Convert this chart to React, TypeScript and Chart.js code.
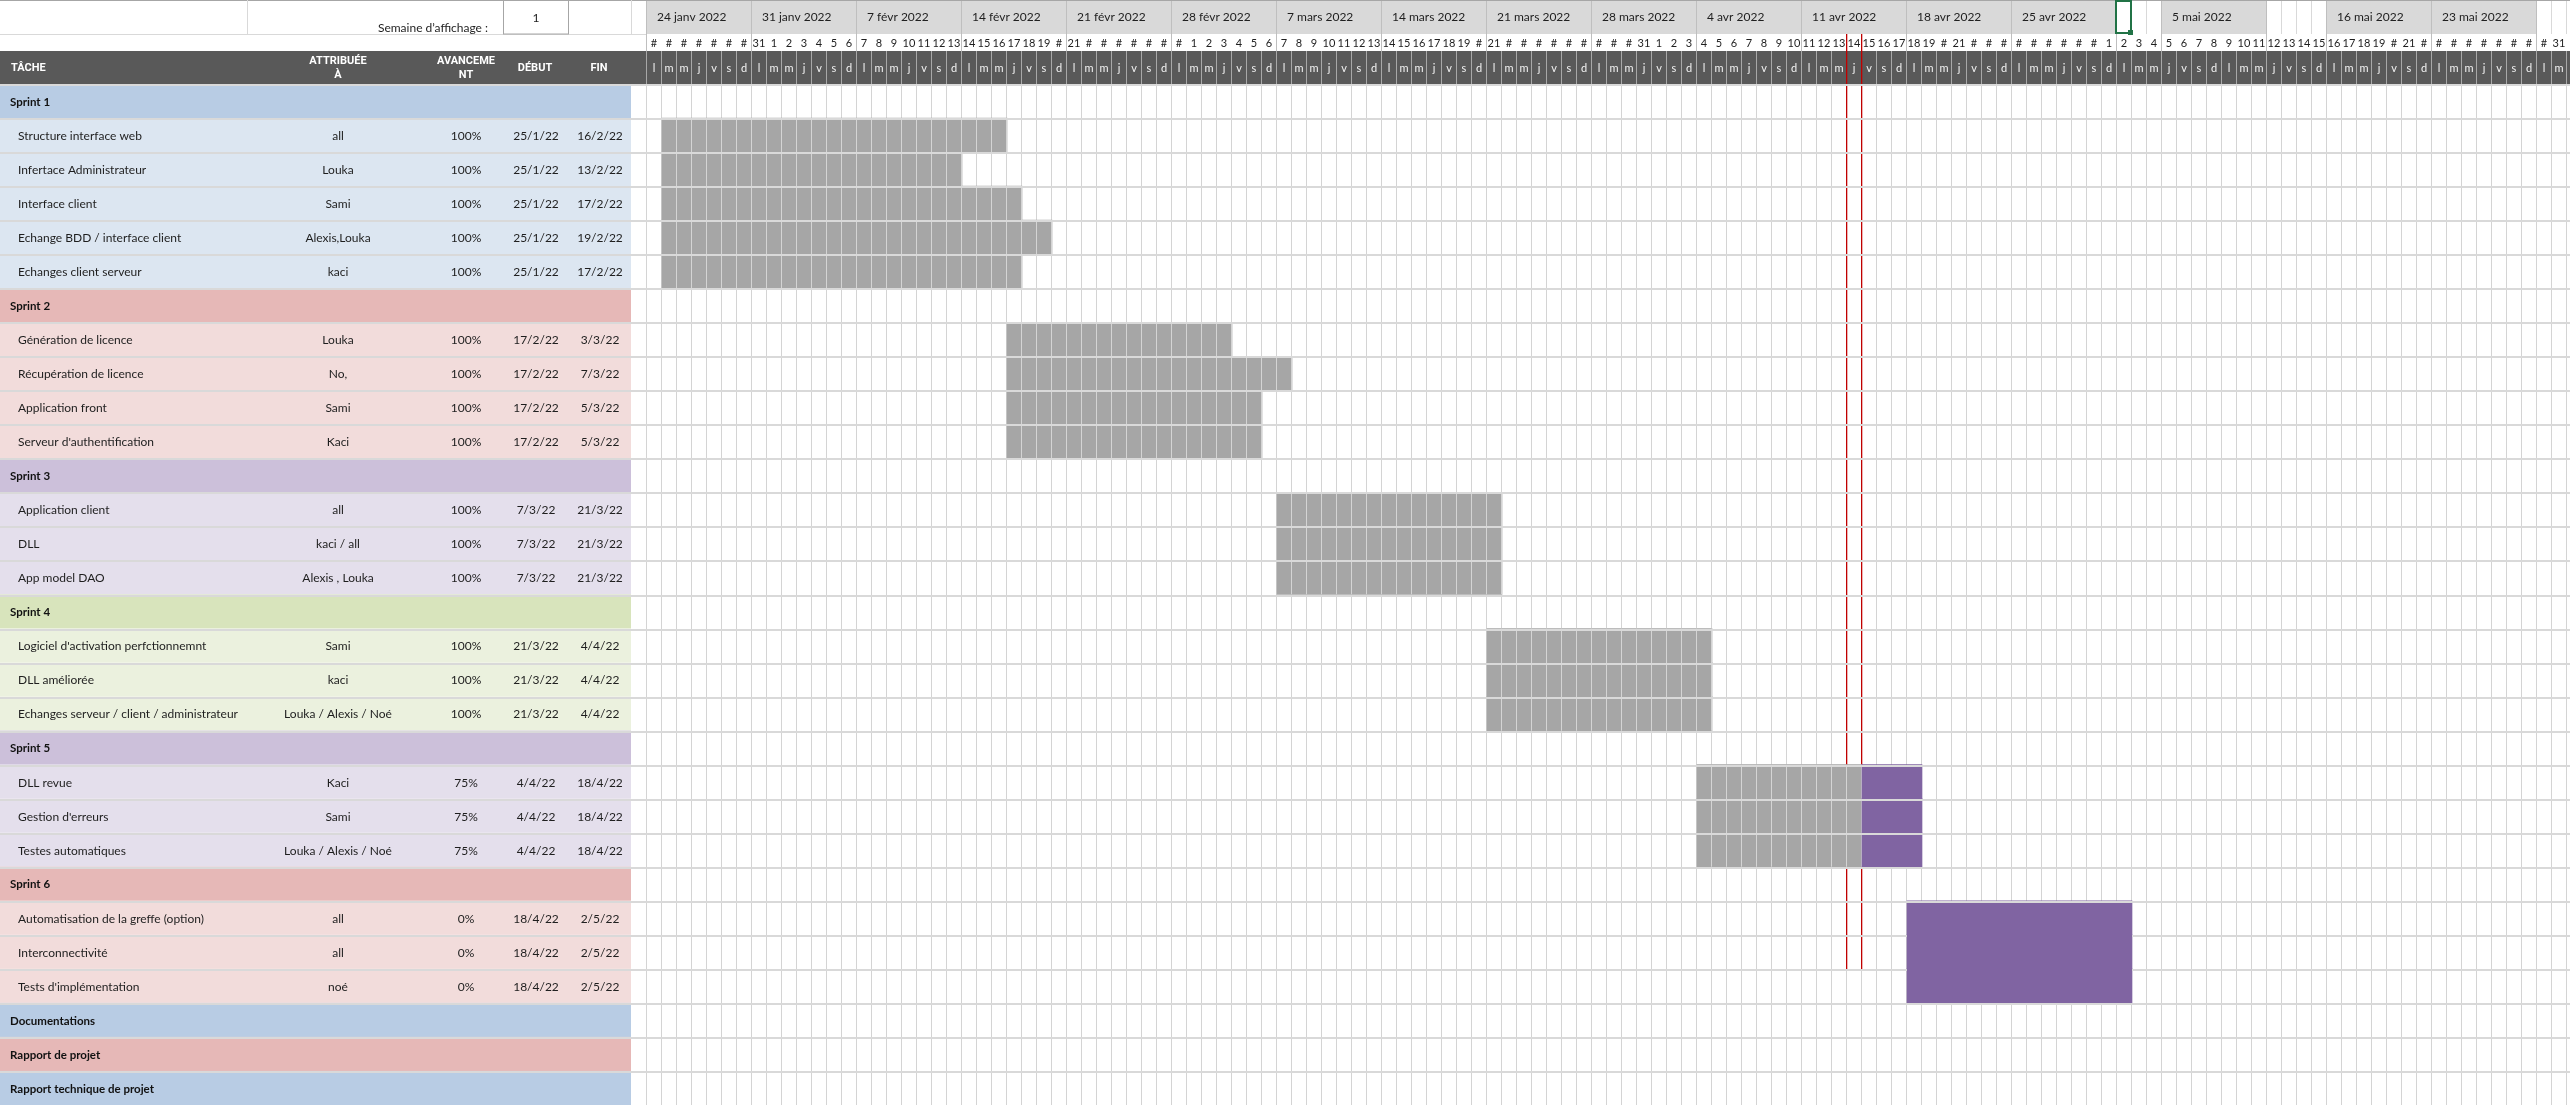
import React, { useEffect, useRef } from "react";
import { Chart, registerables } from "chart.js";

Chart.register(...registerables);

// ---------------- data ----------------
const TIMELINE_START = "24/1/22";
const TIMELINE_DAYS = 128;
const TODAY = "14/4/22";
const TODAY_MARKER_LAST_ROW = "Interconnectivité";
const SELECTED_DAY = "2/5/22";
const DISPLAY_WEEK = "1";

const rowNames = [
  "Sprint 1",
  "Structure interface web",
  "Infertace Administrateur",
  "Interface client",
  "Echange BDD / interface client",
  "Echanges client serveur",
  "Sprint 2",
  "Génération de licence",
  "Récupération de licence",
  "Application front",
  "Serveur d'authentification",
  "Sprint 3",
  "Application client",
  "DLL",
  "App model DAO",
  "Sprint 4",
  "Logiciel d'activation perfctionnemnt",
  "DLL améliorée",
  "Echanges serveur / client / administrateur",
  "Sprint 5",
  "DLL revue",
  "Gestion d'erreurs",
  "Testes automatiques",
  "Sprint 6",
  "Automatisation de la greffe (option)",
  "Interconnectivité",
  "Tests d'implémentation",
  "Documentations",
  "Rapport de projet",
  "Rapport technique de projet",
];

const rowKinds = [
  "group", "task", "task", "task", "task", "task",
  "group", "task", "task", "task", "task",
  "group", "task", "task", "task",
  "group", "task", "task", "task",
  "group", "task", "task", "task",
  "group", "task", "task", "task",
  "group", "group", "group",
];

const rowPalette = [
  "blue", "blue", "blue", "blue", "blue", "blue",
  "red", "red", "red", "red", "red",
  "purple", "purple", "purple", "purple",
  "green", "green", "green", "green",
  "purple", "purple", "purple", "purple",
  "red", "red", "red", "red",
  "blue", "red", "blue",
];

const rowAssignees = [
  "", "all", "Louka", "Sami", "Alexis,Louka", "kaci",
  "", "Louka", "No,", "Sami", "Kaci",
  "", "all", "kaci / all", "Alexis , Louka",
  "", "Sami", "kaci", "Louka / Alexis / Noé",
  "", "Kaci", "Sami", "Louka / Alexis / Noé",
  "", "all", "all", "noé",
  "", "", "",
];

const rowProgress = [
  null, 100, 100, 100, 100, 100,
  null, 100, 100, 100, 100,
  null, 100, 100, 100,
  null, 100, 100, 100,
  null, 75, 75, 75,
  null, 0, 0, 0,
  null, null, null,
];

const rowStarts = [
  "", "25/1/22", "25/1/22", "25/1/22", "25/1/22", "25/1/22",
  "", "17/2/22", "17/2/22", "17/2/22", "17/2/22",
  "", "7/3/22", "7/3/22", "7/3/22",
  "", "21/3/22", "21/3/22", "21/3/22",
  "", "4/4/22", "4/4/22", "4/4/22",
  "", "18/4/22", "18/4/22", "18/4/22",
  "", "", "",
];

const rowEnds = [
  "", "16/2/22", "13/2/22", "17/2/22", "19/2/22", "17/2/22",
  "", "3/3/22", "7/3/22", "5/3/22", "5/3/22",
  "", "21/3/22", "21/3/22", "21/3/22",
  "", "4/4/22", "4/4/22", "4/4/22",
  "", "18/4/22", "18/4/22", "18/4/22",
  "", "2/5/22", "2/5/22", "2/5/22",
  "", "", "",
];

const tableHeaders = [["TÂCHE"], ["ATTRIBUÉE", "À"], ["AVANCEME", "NT"], ["DÉBUT"], ["FIN"]];

const weekLabels = [
  "24 janv 2022", "31 janv 2022", "7 févr 2022", "14 févr 2022", "21 févr 2022",
  "28 févr 2022", "7 mars 2022", "14 mars 2022", "21 mars 2022", "28 mars 2022",
  "4 avr 2022", "11 avr 2022", "18 avr 2022", "25 avr 2022", "5 mai 2022",
  "16 mai 2022", "23 mai 2022",
];
const weekStarts = [
  "24/1/22", "31/1/22", "7/2/22", "14/2/22", "21/2/22",
  "28/2/22", "7/3/22", "14/3/22", "21/3/22", "28/3/22",
  "4/4/22", "11/4/22", "18/4/22", "25/4/22", "5/5/22",
  "16/5/22", "23/5/22",
];

// day numbers as displayed ("#" where the cell was too narrow)
const dayNumberLabels = [
  "#", "#", "#", "#", "#", "#", "#",
  "31", "1", "2", "3", "4", "5", "6",
  "7", "8", "9", "10", "11", "12", "13",
  "14", "15", "16", "17", "18", "19", "#",
  "21", "#", "#", "#", "#", "#", "#",
  "#", "1", "2", "3", "4", "5", "6",
  "7", "8", "9", "10", "11", "12", "13",
  "14", "15", "16", "17", "18", "19", "#",
  "21", "#", "#", "#", "#", "#", "#",
  "#", "#", "#", "31", "1", "2", "3",
  "4", "5", "6", "7", "8", "9", "10",
  "11", "12", "13", "14", "15", "16", "17",
  "18", "19", "#", "21", "#", "#", "#",
  "#", "#", "#", "#", "#", "#", "1",
  "2", "3", "4", "5", "6", "7", "8",
  "9", "10", "11", "12", "13", "14", "15",
  "16", "17", "18", "19", "#", "21", "#",
  "#", "#", "#", "#", "#", "#", "#",
  "#", "31",
];

const dayLetters = ["l", "m", "m", "j", "v", "s", "d"];

// ---------------- style / layout ----------------
const WIDTH = 2570;
const HEIGHT = 1105;
const TABLE_RIGHT = 631;
const GANTT_LEFT = 647;
const DAY_W = 15;
const ROW0_BOTTOM = 34;
const ROW1_BOTTOM = 51;
const HEADER_BOTTOM = 84;

const palettes: Record<string, [string, string]> = {
  blue: ["#b8cce4", "#dce6f1"],
  red: ["#e6b8b7", "#f2dcdb"],
  purple: ["#ccc0da", "#e4dfec"],
  green: ["#d8e4bc", "#ebf1de"],
};
const DONE_COLOR = "#a6a6a6";
const TODO_COLOR = "#8064a2";
const GRID = "#d4d4d4";
const SEP = "#d9d9d9";
const DARK = "#595959";
const TEXT = "#1e1e1e";

const FONT = "Lato, 'Noto Sans', sans-serif";
const HEAD_FONT = "bold 11px Roboto, 'Liberation Sans', sans-serif";

const parseDay = (s: string) => {
  const [d, m, y] = s.split("/").map(Number);
  return Math.round(Date.UTC(2000 + y, m - 1, d) / 86400000);
};
const dayIndex = (s: string) => parseDay(s) - parseDay(TIMELINE_START);

const DONE_LABEL = "Terminé";
const TODO_LABEL = "Restant";

const doneBars = rowNames.map((_, i) => {
  if (rowKinds[i] !== "task") return null;
  const s = dayIndex(rowStarts[i]);
  const e = dayIndex(rowEnds[i]) + 1;
  const n = Math.floor(((e - s) * (rowProgress[i] as number)) / 100);
  return n > 0 ? [s, s + n] : null;
});
const todoBars = rowNames.map((_, i) => {
  if (rowKinds[i] !== "task") return null;
  const s = dayIndex(rowStarts[i]);
  const e = dayIndex(rowEnds[i]) + 1;
  const n = Math.floor(((e - s) * (rowProgress[i] as number)) / 100);
  return s + n < e ? [s + n, e] : null;
});

function drawText(ctx: CanvasRenderingContext2D, s: string, x: number, y: number, font: string, color: string, align: CanvasTextAlign = "left") {
  ctx.font = font;
  ctx.fillStyle = color;
  ctx.textAlign = align;
  ctx.textBaseline = "middle";
  ctx.fillText(s, x, y);
}

function drawDayLines(chart: any) {
  const { ctx, chartArea } = chart;
  const xs = chart.scales.x;
  ctx.save();
  ctx.fillStyle = GRID;
  for (let k = 0; k <= TIMELINE_DAYS; k++) {
    const px = Math.round(xs.getPixelForValue(k));
    ctx.fillRect(px - 1, chartArea.top, 1, chartArea.bottom - chartArea.top);
  }
  ctx.restore();
}

function drawTodayMarker(chart: any) {
  const { ctx, chartArea } = chart;
  const xs = chart.scales.x;
  const ys = chart.scales.y;
  const rowH = (chartArea.bottom - chartArea.top) / rowNames.length;
  const dx = (k: number) => Math.round(xs.getPixelForValue(k));
  const t = dayIndex(TODAY);
  const lastRow = rowNames.indexOf(TODAY_MARKER_LAST_ROW);
  const yEnd = Math.round(ys.getPixelForValue(lastRow) + rowH / 2);
  ctx.save();
  ctx.fillStyle = "#c00000";
  ctx.fillRect(dx(t) - 1, ROW0_BOTTOM, 1.3, yEnd - ROW0_BOTTOM);
  ctx.fillRect(dx(t + 1) - 1, ROW0_BOTTOM, 1.3, yEnd - ROW0_BOTTOM);
  ctx.restore();
}

const sheetPlugin = {
  id: "sheet",
  beforeDraw(chart: any) {
    const { ctx, chartArea } = chart;
    const xs = chart.scales.x;
    const ys = chart.scales.y;
    const rowH = (chartArea.bottom - chartArea.top) / rowNames.length;
    const dx = (k: number) => Math.round(xs.getPixelForValue(k));
    ctx.save();
    ctx.fillStyle = "#ffffff";
    ctx.fillRect(0, 0, WIDTH, HEIGHT);

    // ---- top row (display week)
    ctx.fillStyle = "#a6a6a6";
    ctx.fillRect(0, 0, WIDTH, 1);
    ctx.fillStyle = SEP;
    ctx.fillRect(0, ROW0_BOTTOM, GANTT_LEFT, 1);
    ctx.fillRect(247, 0, 1, ROW0_BOTTOM);
    ctx.fillRect(TABLE_RIGHT, 0, 1, ROW0_BOTTOM);
    ctx.strokeStyle = "#a6a6a6";
    ctx.lineWidth = 1;
    ctx.strokeRect(503.5, 0.5, 65, ROW0_BOTTOM - 0.5);
    drawText(ctx, DISPLAY_WEEK, 536, 18, `12px ${FONT}`, TEXT, "center");
    drawText(ctx, "Semaine d’affichage :", 488, 28, `12px ${FONT}`, TEXT, "right");

    // ---- timeline: per-day lines in first row
    ctx.fillStyle = SEP;
    for (let k = 0; k <= TIMELINE_DAYS; k++) ctx.fillRect(dx(k) - 1, 1, 1, ROW0_BOTTOM - 1);
    // week blocks
    weekStarts.forEach((ws, w) => {
      const s = dayIndex(ws);
      const e = Math.min(s + 7, TIMELINE_DAYS);
      const x0 = dx(s) - 1;
      const x1 = dx(e) - 1;
      ctx.fillStyle = SEP;
      ctx.fillRect(x0, 1, x1 - x0, ROW0_BOTTOM - 1);
      ctx.fillStyle = "#bfbfbf";
      ctx.fillRect(x0, 1, 1, ROW1_BOTTOM - 1);
      ctx.fillRect(x1, 1, 1, ROW1_BOTTOM - 1);
      drawText(ctx, weekLabels[w], x0 + 11, 17, `12px ${FONT}`, TEXT, "left");
    });
    // selected cell
    const sel = dayIndex(SELECTED_DAY);
    ctx.strokeStyle = "#217346";
    ctx.lineWidth = 2;
    ctx.strokeRect(dx(sel) - 1, 1, dx(sel + 1) - dx(sel), ROW0_BOTTOM - 2);
    ctx.fillStyle = "#217346";
    ctx.fillRect(dx(sel + 1) - 4, ROW0_BOTTOM - 4, 5, 5);

    // day numbers
    for (let k = 0; k < TIMELINE_DAYS; k++) {
      const cx = (xs.getPixelForValue(k) + xs.getPixelForValue(k + 1)) / 2 - 0.5;
      drawText(ctx, dayNumberLabels[k], cx, 43, `11px ${FONT}`, TEXT, "center");
    }

    // ---- dark header band
    ctx.fillStyle = DARK;
    ctx.fillRect(0, ROW1_BOTTOM, WIDTH, HEADER_BOTTOM - ROW1_BOTTOM);
    ctx.fillStyle = "#a8a8a8";
    for (let k = 0; k <= TIMELINE_DAYS; k++) ctx.fillRect(dx(k) - 1, ROW1_BOTTOM, 1, HEADER_BOTTOM - ROW1_BOTTOM);
    const start0 = parseDay(TIMELINE_START);
    for (let k = 0; k < TIMELINE_DAYS; k++) {
      const wd = (new Date((start0 + k) * 86400000).getUTCDay() + 6) % 7;
      const cx = (xs.getPixelForValue(k) + xs.getPixelForValue(k + 1)) / 2 - 0.5;
      drawText(ctx, dayLetters[wd], cx, 68, `11px ${FONT}`, "#f2f2f2", "center");
    }
    const headX = [11, 338, 466, 535, 599];
    tableHeaders.forEach((lines, c) => {
      const align: CanvasTextAlign = c === 0 ? "left" : "center";
      if (lines.length === 1) drawText(ctx, lines[0], headX[c], 68, HEAD_FONT, "#ffffff", align);
      else lines.forEach((l, j) => drawText(ctx, l, headX[c], 61.5 + j * 14, HEAD_FONT, "#ffffff", align));
    });

    // ---- table rows
    rowNames.forEach((name, i) => {
      const cy = ys.getPixelForValue(i);
      const top = cy - rowH / 2;
      const isGroup = rowKinds[i] === "group";
      ctx.fillStyle = palettes[rowPalette[i]][isGroup ? 0 : 1];
      ctx.fillRect(0, top, TABLE_RIGHT, rowH);
      const ty = cy + 1;
      if (isGroup) {
        drawText(ctx, name, 10, ty, `bold 11.5px ${FONT}`, "#111111", "left");
      } else {
        drawText(ctx, name, 18, ty, `12px ${FONT}`, TEXT, "left");
        drawText(ctx, rowAssignees[i], 338, ty, `12px ${FONT}`, TEXT, "center");
        drawText(ctx, `${rowProgress[i]}%`, 466, ty, `12px ${FONT}`, TEXT, "center");
        drawText(ctx, rowStarts[i], 536, ty, `12px ${FONT}`, TEXT, "center");
        drawText(ctx, rowEnds[i], 600, ty, `12px ${FONT}`, TEXT, "center");
      }
    });
    ctx.restore();
  },
  beforeDatasetsDraw(chart: any) {
    drawDayLines(chart);
    drawTodayMarker(chart);
  },
  afterDatasetDraw(chart: any, args: any) {
    if (chart.data.datasets[args.index].label !== DONE_LABEL) return;
    // day grid shows through the grey (done) cells only
    const { ctx } = chart;
    ctx.save();
    ctx.beginPath();
    let any = false;
    args.meta.data.forEach((el: any) => {
      const p = el.getProps(["x", "y", "base", "height"], true);
      if (![p.x, p.y, p.base, p.height].every((v: number) => Number.isFinite(v))) return;
      const l = Math.min(p.x, p.base);
      const r = Math.max(p.x, p.base);
      if (r - l <= 0) return;
      ctx.rect(l, p.y - p.height / 2, r - l, p.height);
      any = true;
    });
    if (any) {
      ctx.clip();
      drawDayLines(chart);
    }
    ctx.restore();
  },
  afterDatasetsDraw(chart: any) {
    const { ctx, chartArea } = chart;
    const xs = chart.scales.x;
    const ys = chart.scales.y;
    const rowH = (chartArea.bottom - chartArea.top) / rowNames.length;
    ctx.save();
    // row separators
    for (let i = 0; i < rowNames.length; i++) {
      const top = Math.round(ys.getPixelForValue(i) - rowH / 2);
      ctx.fillStyle = SEP;
      ctx.fillRect(0, top, WIDTH, 2);
      // merged block (consecutive not-started tasks with same period)
      if (i > 0) {
        const a = todoBars[i - 1];
        const b = todoBars[i];
        if (a && b && !doneBars[i - 1] && !doneBars[i] && a[0] === b[0] && a[1] === b[1]) {
          ctx.fillStyle = TODO_COLOR;
          ctx.fillRect(xs.getPixelForValue(a[0]), top, xs.getPixelForValue(a[1]) - xs.getPixelForValue(a[0]), 2);
        }
      }
    }
    ctx.restore();
  },
};

export default function App() {
  const canvasRef = useRef<HTMLCanvasElement | null>(null);

  useEffect(() => {
    if (!canvasRef.current) return;
    const chart = new Chart(canvasRef.current, {
      type: "bar",
      data: {
        labels: rowNames,
        datasets: [
          {
            label: TODO_LABEL,
            data: todoBars as any,
            backgroundColor: TODO_COLOR,
            borderWidth: 0,
            barPercentage: 1,
            categoryPercentage: 1,
            grouped: false,
          } as any,
          {
            label: DONE_LABEL,
            data: doneBars as any,
            backgroundColor: DONE_COLOR,
            borderWidth: 0,
            barPercentage: 1,
            categoryPercentage: 1,
            grouped: false,
          } as any,
        ],
      },
      options: {
        indexAxis: "y",
        responsive: false,
        animation: false,
        events: [],
        layout: {
          padding: {
            left: GANTT_LEFT,
            top: HEADER_BOTTOM,
            right: WIDTH - GANTT_LEFT - TIMELINE_DAYS * DAY_W,
            bottom: 0,
          },
        },
        plugins: {
          legend: { display: false },
          tooltip: { enabled: false },
        },
        scales: {
          x: { type: "linear", min: 0, max: TIMELINE_DAYS, display: false },
          y: { type: "category", display: false },
        },
      },
      plugins: [sheetPlugin],
    });
    return () => chart.destroy();
  }, []);

  return (
    <div style={{ position: "absolute", left: 0, top: 0, width: WIDTH, height: HEIGHT, background: "#fff" }}>
      <canvas ref={canvasRef} width={WIDTH} height={HEIGHT} style={{ display: "block", width: WIDTH, height: HEIGHT }} />
    </div>
  );
}
